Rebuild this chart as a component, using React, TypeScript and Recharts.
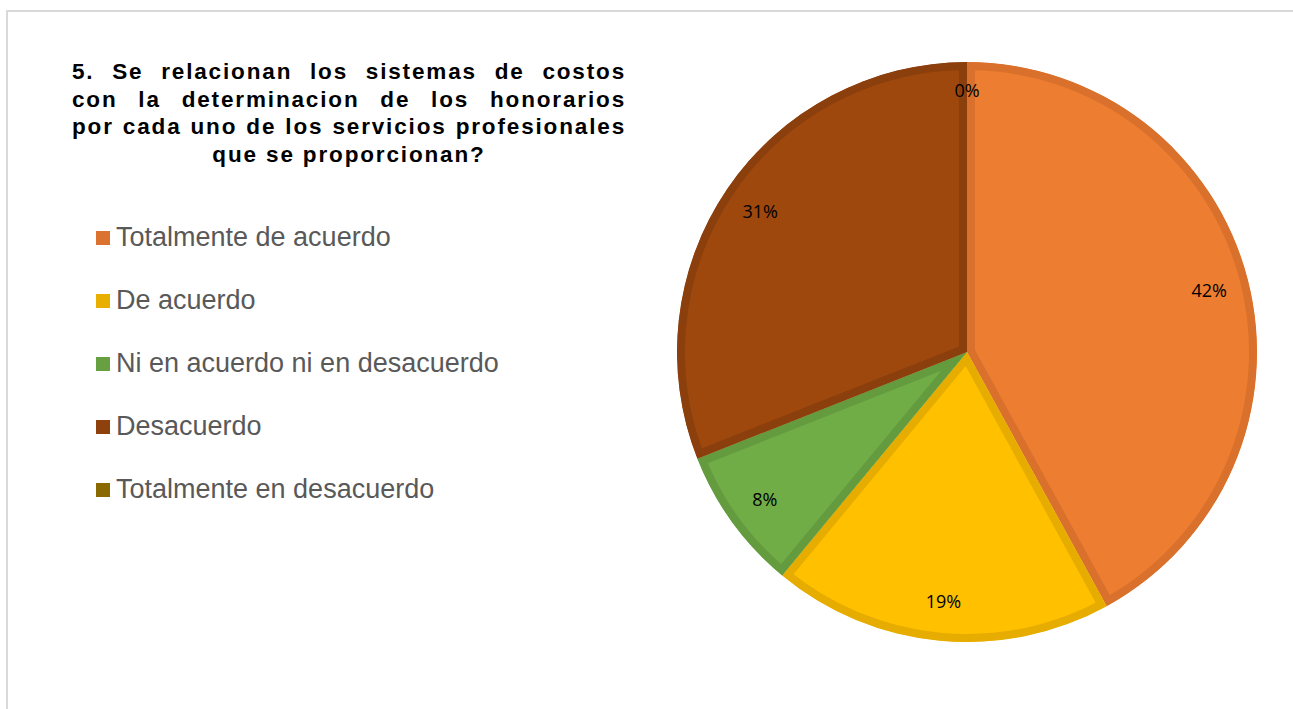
import React from 'react';
import { PieChart, Pie, Cell, Sector } from 'recharts';

const categories = [
  'Totalmente de acuerdo',
  'De acuerdo',
  'Ni en acuerdo ni en desacuerdo',
  'Desacuerdo',
  'Totalmente en desacuerdo',
];
const percentages = [42, 19, 8, 31, 0];

const FILLS = ['#ED7D31', '#FFC000', '#70AD47', '#9E480E', '#997300'];
const BORDERS = ['#D9712C', '#E6AD00', '#649B3F', '#8B3F0C', '#876500'];
const SWATCHES = ['#DB7230', '#E8AE00', '#66A040', '#8E410D', '#8A6900'];

const TITLE_LINES = [
  '5. Se relacionan los sistemas  de costos',
  'con  la determinacion de los  honorarios',
  'por cada uno de los servicios profesionales',
  'que se proporcionan?',
];

const data = categories.map((name, i) => ({ name, value: percentages[i] }));

const RADIAN = Math.PI / 180;

// each slice gets its own darker inner border, as in the spreadsheet chart
const InsetSector = (props: any) => {
  const { cx, cy, innerRadius, outerRadius, startAngle, endAngle, fill, stroke, name } = props;
  const id = `clip-${String(name).replace(/\s+/g, '-')}`;
  return (
    <g>
      <defs>
        <clipPath id={id}>
          <Sector cx={cx} cy={cy} innerRadius={innerRadius} outerRadius={outerRadius}
            startAngle={startAngle} endAngle={endAngle} />
        </clipPath>
      </defs>
      <Sector cx={cx} cy={cy} innerRadius={innerRadius} outerRadius={outerRadius}
        startAngle={startAngle} endAngle={endAngle} fill={fill} stroke={stroke}
        strokeWidth={16} clipPath={`url(#${id})`} />
    </g>
  );
};

const renderLabel = (props: any) => {
  const { cx, cy, midAngle, outerRadius, value } = props;
  const r = value === 0 ? outerRadius - 28 : outerRadius - 40;
  const x = cx + r * Math.cos(-midAngle * RADIAN);
  const y = cy + r * Math.sin(-midAngle * RADIAN);
  return (
    <text x={x} y={y} fill="#000" textAnchor="middle" dominantBaseline="central"
      style={{ fontFamily: '"Open Sans", sans-serif', fontSize: 18 }}>
      {`${value}%`}
    </text>
  );
};

export default function App() {
  return (
    <div style={{ position: 'absolute', left: 0, top: 0, width: 1293, height: 709, overflow: 'hidden', background: '#fff' }}>
      {/* chart frame: only top and left edges visible */}
      <div style={{ position: 'absolute', left: 6, top: 10, width: 1400, height: 800, borderLeft: '2px solid #d9d9d9', borderTop: '2px solid #d9d9d9' }} />

      <div style={{
        position: 'absolute', left: 72, top: 58, width: 554,
        fontFamily: '"Liberation Sans", Arial, sans-serif', fontWeight: 'bold', fontSize: 22.5,
        letterSpacing: 1.85, lineHeight: '27.5px', color: '#000',
      }}>
        {TITLE_LINES.map((line, i) => (
          <div key={i} style={{
            textAlign: i === TITLE_LINES.length - 1 ? 'center' : 'justify',
            textAlignLast: i === TITLE_LINES.length - 1 ? 'center' : 'justify',
            whiteSpace: 'nowrap',
          }}>{line}</div>
        ))}
      </div>

      <div style={{ position: 'absolute', left: 96, top: 206 }}>
        {categories.map((c, i) => (
          <div key={c} style={{ display: 'flex', alignItems: 'center', height: 63 }}>
            <span style={{ width: 14, height: 14, background: SWATCHES[i], display: 'inline-block', marginRight: 6 }} />
            <span style={{ fontFamily: '"Liberation Sans", Arial, sans-serif', fontSize: 27, color: '#595959', whiteSpace: 'nowrap' }}>{c}</span>
          </div>
        ))}
      </div>

      <div style={{ position: 'absolute', left: 0, top: 0 }}>
        <PieChart width={1293} height={709} margin={{ top: 0, right: 0, bottom: 0, left: 0 }}>
          <Pie
            data={data}
            dataKey="value"
            nameKey="name"
            cx={967}
            cy={352}
            outerRadius={290}
            startAngle={90}
            endAngle={-270}
            label={renderLabel}
            labelLine={false}
            shape={InsetSector}
            isAnimationActive={false}
          >
            {data.map((d, i) => (
              <Cell key={d.name} fill={FILLS[i]} stroke={BORDERS[i]} />
            ))}
          </Pie>
        </PieChart>
      </div>
    </div>
  );
}
